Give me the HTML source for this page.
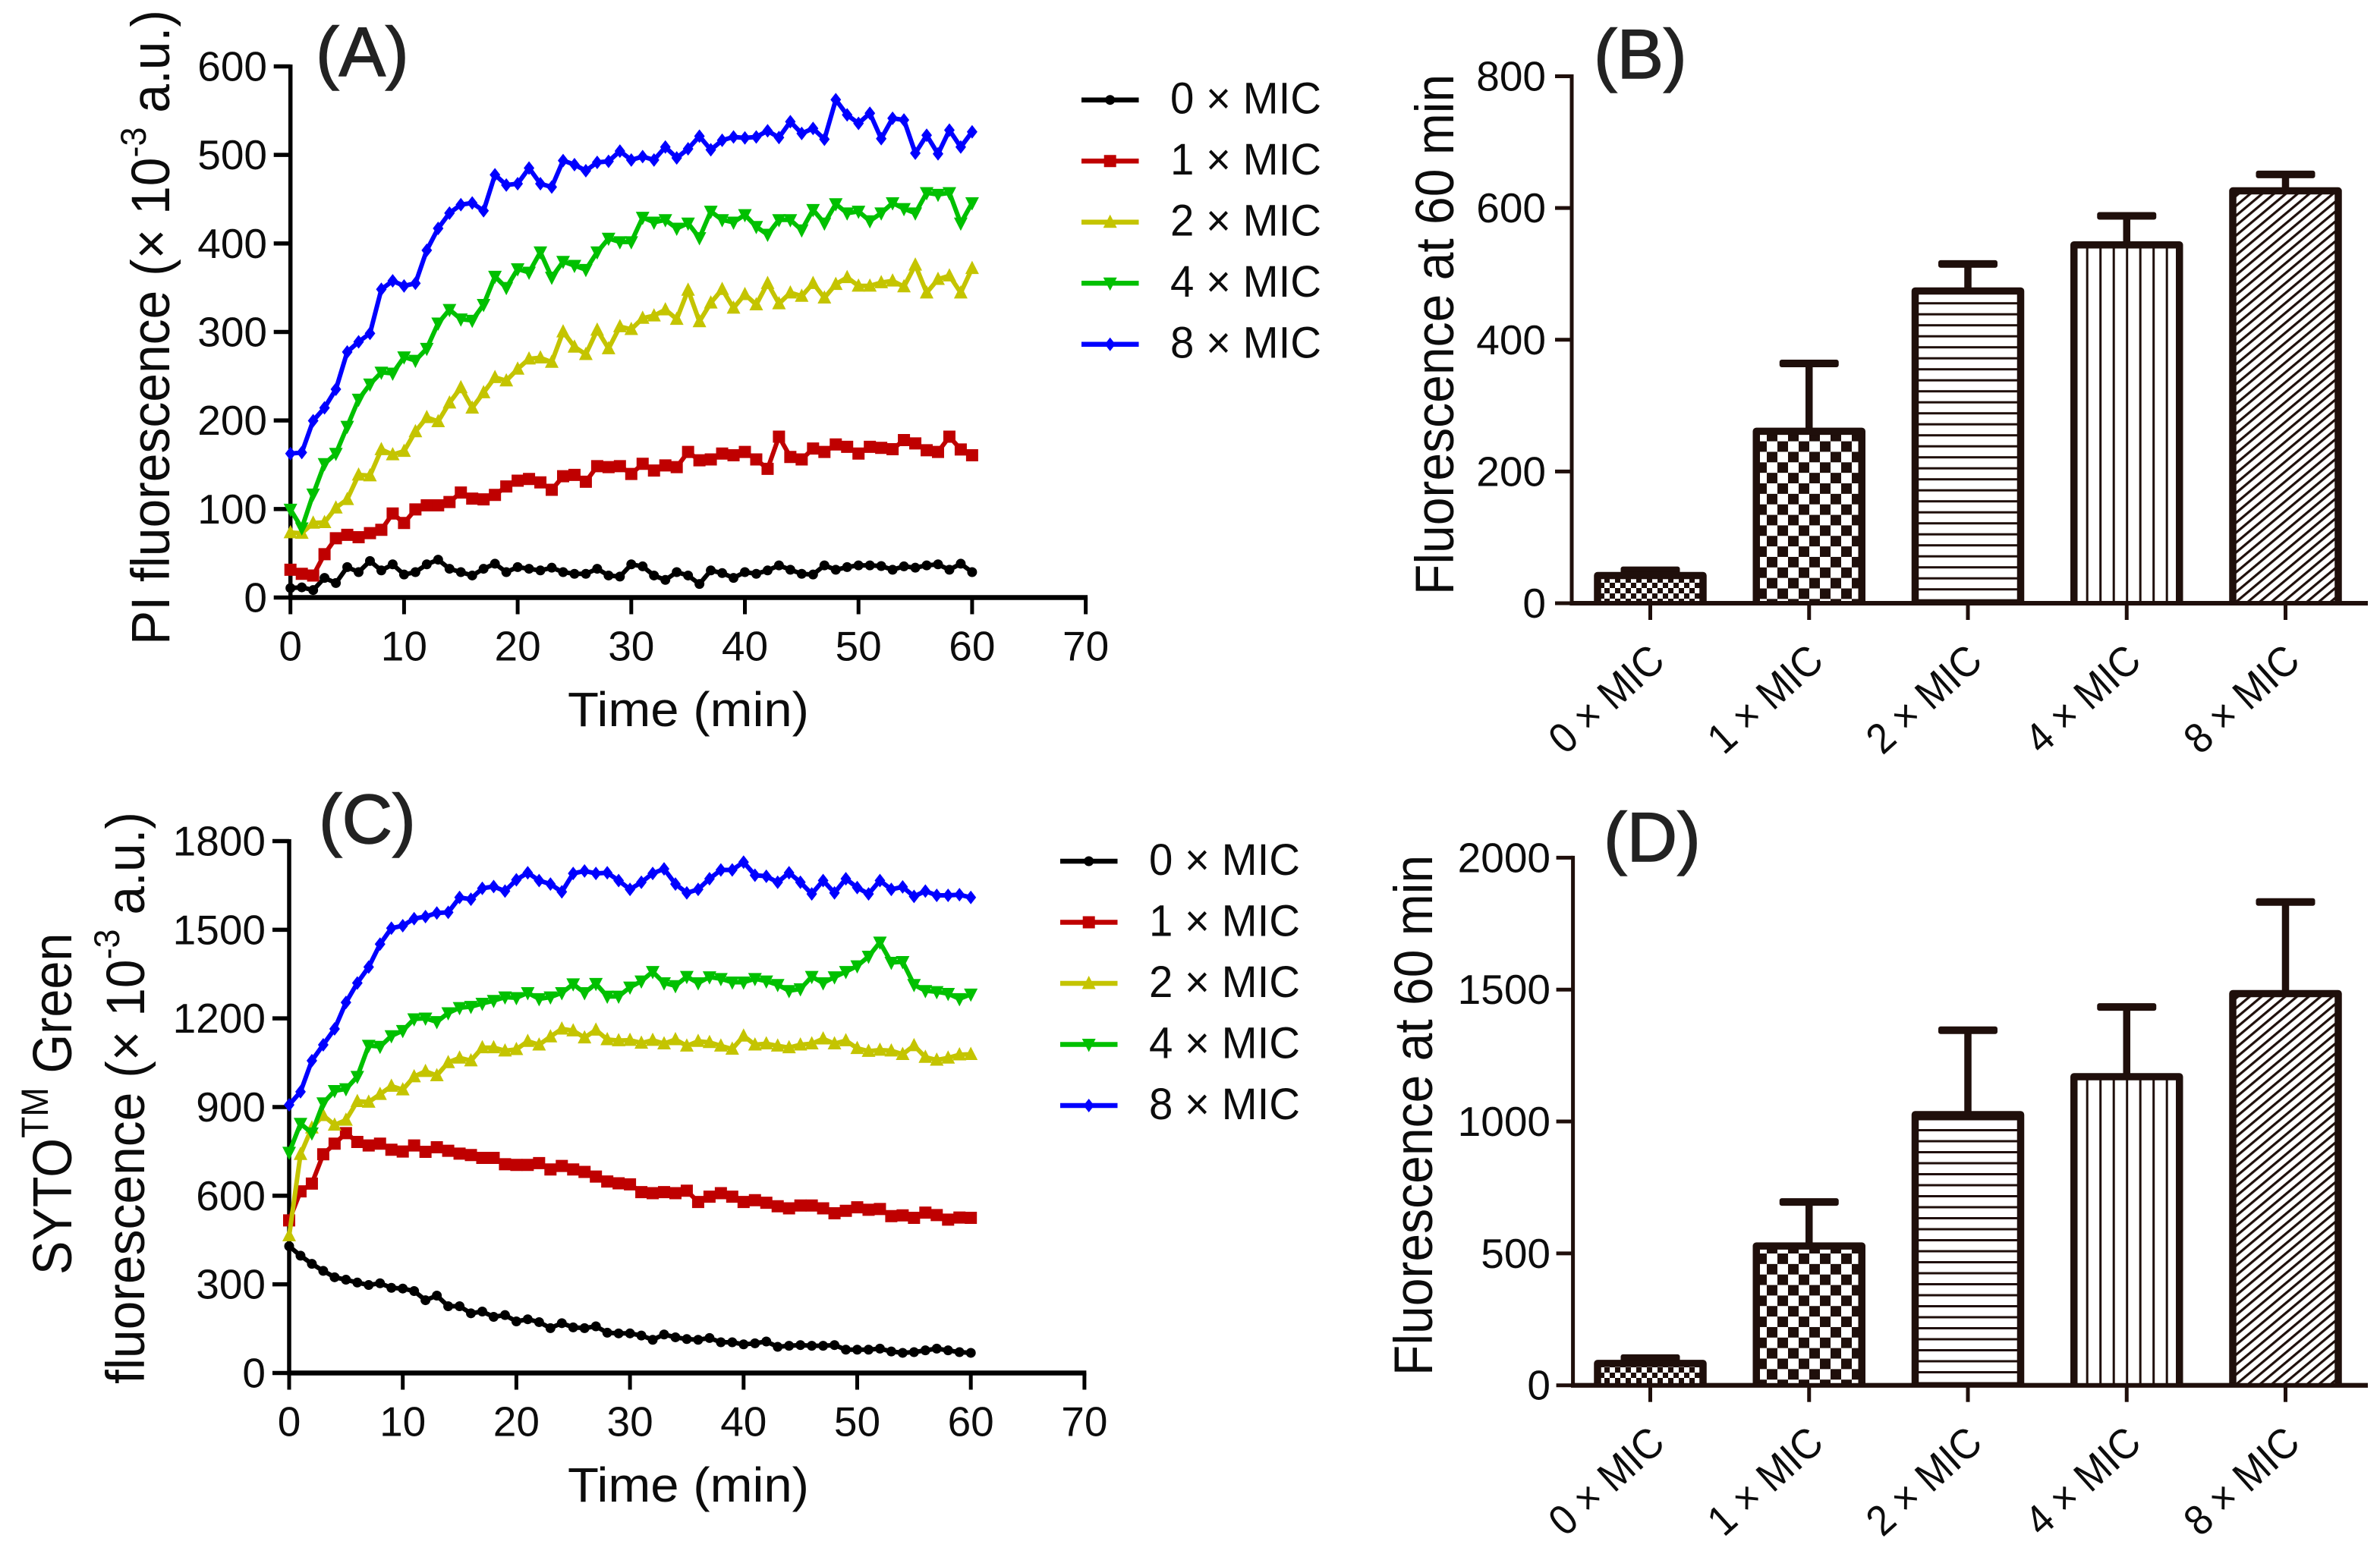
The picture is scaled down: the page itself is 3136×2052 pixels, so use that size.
<!DOCTYPE html>
<html lang="en">
<head>
<meta charset="utf-8">
<title>Fluorescence panels A-D</title>
<style>
html,body{margin:0;padding:0;background:#fff;}
svg{display:block;}
text{font-family:"Liberation Sans",Arial,sans-serif;fill:#0c0c0c;}
.panel-label{fill:#222;stroke:#222;stroke-width:1.5px;}
</style>
</head>
<body>
<svg id="figure" xmlns="http://www.w3.org/2000/svg" width="3136" height="2052" viewBox="0 0 3136 2052">
<defs>
<pattern id="smallCheckB" patternUnits="userSpaceOnUse" x="2100" y="761" width="14" height="14"><rect x="0" y="0" width="7" height="7" fill="#1f0f0b"/><rect x="7" y="7" width="7" height="7" fill="#1f0f0b"/></pattern>
<pattern id="bigCheckB" patternUnits="userSpaceOnUse" x="2328" y="581.6" width="28" height="27.7"><rect x="14" y="0" width="14" height="13.85" fill="#1f0f0b"/><rect x="0" y="13.85" width="14" height="13.85" fill="#1f0f0b"/></pattern>
<pattern id="hLinesB" patternUnits="userSpaceOnUse" x="2500" y="398.2" width="20" height="14.5"><rect x="0" y="0" width="20" height="3" fill="#1f0f0b"/></pattern>
<pattern id="smallCheckD" patternUnits="userSpaceOnUse" x="2100" y="1802" width="14" height="14"><rect x="0" y="0" width="7" height="7" fill="#1f0f0b"/><rect x="7" y="7" width="7" height="7" fill="#1f0f0b"/></pattern>
<pattern id="bigCheckD" patternUnits="userSpaceOnUse" x="2328" y="1652" width="28" height="27.7"><rect x="14" y="0" width="14" height="13.85" fill="#1f0f0b"/><rect x="0" y="13.85" width="14" height="13.85" fill="#1f0f0b"/></pattern>
<pattern id="hLinesD" patternUnits="userSpaceOnUse" x="2500" y="1488" width="20" height="14.5"><rect x="0" y="0" width="20" height="3" fill="#1f0f0b"/></pattern>
<pattern id="vLines" patternUnits="userSpaceOnUse" x="2748.7" y="0" width="17.5" height="20"><rect x="0" y="0" width="3" height="20" fill="#1f0f0b"/></pattern>
<pattern id="diagLines" patternUnits="userSpaceOnUse" width="20" height="10" patternTransform="rotate(-40)"><rect x="0" y="0" width="20" height="3.2" fill="#1f0f0b"/></pattern>
</defs>

<text class="panel-label" x="416" y="100" font-size="92">(A)</text>
<text class="panel-label" x="2100" y="103" font-size="92">(B)</text>
<text class="panel-label" x="420" y="1111" font-size="92">(C)</text>
<text class="panel-label" x="2113" y="1135" font-size="92">(D)</text>

<text font-size="71" transform="translate(223,850) rotate(-90) scale(0.955,1)">PI fluorescence (× 10<tspan font-size="47" dy="-31">-3</tspan><tspan dy="31"> a.u.)</tspan></text>
<text x="748" y="957" font-size="64" textLength="318" lengthAdjust="spacingAndGlyphs">Time (min)</text>

<text font-size="71" transform="translate(1915,784) rotate(-90) scale(0.93,1)">Fluorescence at 60 min</text>

<text font-size="72" transform="translate(94,1680) rotate(-90) scale(0.925,1)">SYTO<tspan font-size="50" dy="-31">TM</tspan><tspan dy="31"> Green</tspan></text>
<text font-size="71" transform="translate(190,1824) rotate(-90) scale(0.955,1)">fluorescence (× 10<tspan font-size="47" dy="-33">-3</tspan><tspan dy="33"> a.u.)</tspan></text>
<text x="748" y="1979" font-size="64" textLength="318" lengthAdjust="spacingAndGlyphs">Time (min)</text>

<text font-size="71" transform="translate(1887,1813) rotate(-90) scale(0.93,1)">Fluorescence at 60 min</text>
</svg>

<script>
// Shared labels
const seriesNames = ['0 × MIC','1 × MIC','2 × MIC','4 × MIC','8 × MIC'];
const barCategories = ['0 × MIC','1 × MIC','2 × MIC','4 × MIC','8 × MIC'];
const timeTicks = [0,10,20,30,40,50,60,70];

// Panel A tick labels and series (index = minute)
const aYTicks = [0,100,200,300,400,500,600];
const aBlack = [10.7,11.5,8.4,22.2,16.4,34.4,28.7,41.3,30.6,37.5,26,28.7,37.5,42.8,32.5,28.7,24.9,32.5,38.2,28.7,34.4,32.5,30.6,33.7,28.7,26.8,26.8,32.5,24.9,23.7,37.5,35.2,24.9,19.9,28.7,24.9,15.3,30.6,27.6,22.2,28.7,26.8,30.6,36.3,31.4,26.8,26,36.3,31.4,34.4,36.3,36.3,35.6,31.4,35.2,33.7,36.3,37.5,31.4,38.2,28.7];
const aRed = [31.4,26.8,24.9,49,67,70.8,68.1,72.7,76.5,94.9,84.2,99.5,104.1,104.1,107.9,118.6,111.7,110.9,115.9,125.5,132,133.9,130.1,121.7,137,138.5,130.8,148.4,147.3,148.4,139.6,151.1,143.5,149.2,147.3,164.5,155,156,162.6,160.7,164.5,156,145.4,181.7,158.8,156,168.3,164.5,172.9,170.2,162.6,170.2,169.1,167.6,177.9,174.1,166.4,164.5,181.7,167.2,160.7];
const aYellow = [73.4,72.7,84.2,84.9,101.4,110.9,138.5,137.7,167.2,161.5,165.3,187.5,203.5,198.9,220,237.2,214.2,231.5,248.7,244.9,258.2,269.7,270.9,265.9,300.3,283.1,274.7,302.2,281.2,306.1,303,315.6,318.3,325.2,314.5,347.4,311.8,332.9,348.2,327.1,342.4,330.9,355,332,344.3,340.5,355,338.6,353.9,361.6,352,352,355.8,357.7,351.2,375.7,344.3,359.6,363.5,344.3,371.9];
const aGreen = [99.5,78.4,116.7,151.1,162.6,193.2,223.8,241,254.4,253.3,271.6,267.8,281.2,309.9,325.2,314.5,313,330.9,362.7,350,371.1,367.3,390.2,361.6,379.5,375,370.4,390.2,405.6,401.7,401.7,429.3,423.9,426.6,417,422.8,406.3,436.2,426.6,423.9,432.3,418.9,410.1,426.6,426.6,415.1,438.1,422.8,444.6,434.2,436.2,425.4,434.2,445.7,439.2,434.2,457.2,455.3,457.2,422.8,445.7];
const aBlue = [162.6,163.8,199.7,214.3,235.3,277.4,288.9,298.4,348.2,357.7,352,355,392.2,417,434.3,443.8,445.7,436.9,477.5,466,467.5,485.1,467.5,463.7,493.6,489,482.1,491.6,492.8,504.3,494.3,498.1,494.3,508.9,496.6,506.9,521.1,505.8,516.5,520.3,519.2,520.3,527.2,519.6,537.5,524.2,529.9,517.7,562.4,545.2,535.6,547.1,518.4,541.4,539.5,502,522.2,501.2,528,508.9,526.1];

// Panel C tick labels and series (index = minute)
const cYTicks = [0,300,600,900,1200,1500,1800];
const cBlack = [429.2,397,369.5,345.6,324,315.7,306.1,297.7,303.7,288.2,285.8,277.4,246.3,261.9,226,226,202,208,190.1,196,174.6,181.8,172.2,151.9,168.6,154.3,151.9,157.9,136.4,134,134,126.8,112.4,130.4,120.8,114.8,112.4,118.4,104,104,96.9,100.5,106.5,88.5,92.1,94.5,92.1,92.1,94.5,78.9,78.9,78.9,82.5,72.9,68.2,70.6,76.6,82.5,76.6,70.6,68.2];
const cRed = [516.5,614.5,640.9,740.1,776,811.8,781.9,770,776,755.6,749.6,770,748.4,764,752,742.5,737.7,728.1,728.1,706.6,704.2,704.2,710.2,688.7,700.6,688.7,680.3,664.8,648,642,638.5,612,608.6,612,608.6,617,578.7,596.6,608.6,596.6,578.7,584.7,576.3,564.4,557.2,566.7,566.7,557.2,540.4,548.8,560.8,552.4,554.8,530.9,533.3,525,542.8,534.5,518.9,526.1,525];
const cYellow = [465.1,740.1,829.7,871.6,839.3,856,919.4,917,943.3,970.8,958.8,1003.1,1021,1006.7,1050.9,1066.4,1056.9,1101.1,1101.1,1090.4,1095.1,1122.6,1110.7,1138.2,1164.5,1158.5,1134.6,1160.9,1128.6,1125,1126.2,1116.7,1126.2,1114.3,1128.6,1107,1122.6,1119,1107,1096.3,1140.6,1110.7,1114.3,1107,1101.1,1110.7,1114.3,1131,1114.3,1125,1098.7,1089.2,1092.8,1090.4,1078.4,1108.3,1068.8,1059.3,1066.4,1077.2,1078.4];
const cGreen = [746.1,844,811.8,913.4,955.3,961.2,1003.1,1108.3,1104.7,1140.6,1158.5,1198,1200.3,1188.4,1218.3,1236.2,1239.8,1250.6,1260.1,1272.1,1269.7,1286.4,1266.1,1272.1,1286.4,1316.3,1286.4,1317.5,1274.5,1274.5,1305.5,1325.9,1358.1,1319.9,1310.3,1341.4,1319.9,1340.2,1334.2,1322.3,1322.3,1334.2,1325.9,1313.9,1293.6,1299.6,1341.4,1319.9,1340.2,1358.1,1377.3,1409.6,1457.4,1389.2,1391.6,1313.9,1293.6,1290,1284,1266.1,1281.6];
const cBlue = [907.4,951.7,1056.9,1110.7,1164.5,1254.1,1319.9,1373.7,1451.4,1505.2,1513.6,1537.5,1544.6,1556.6,1559,1609.2,1603.2,1640.3,1646.3,1630.7,1669,1692.9,1666.6,1654.6,1628.3,1690.5,1698.9,1690.5,1692.9,1666.6,1636.7,1660.6,1690.5,1706,1654.6,1624.7,1636.7,1672.6,1702.5,1702.5,1728.8,1684.5,1681,1660.6,1692.9,1660.6,1621.2,1666.6,1624.7,1672.6,1642.7,1621.2,1666.6,1636.7,1645,1612.8,1630.7,1616.4,1616.4,1618.8,1609.2];

// Panel B bars
const bYTicks = [0,200,400,600,800];
const bValues = [42,261,474,544,626];
const bUpper = [50,364,515,588,651];

// Panel D bars
const dYTicks = [0,500,1000,1500,2000];
const dValues = [83,528,1026,1170,1485];
const dUpper = [103,695,1346,1434,1832];

const NS = 'http://www.w3.org/2000/svg';
const svg = document.getElementById('figure');
const INK = '#1f0f0b';

function el(tag, attrs, parent){
  const e = document.createElementNS(NS, tag);
  for (const k in attrs) e.setAttribute(k, attrs[k]);
  parent.appendChild(e);
  return e;
}
function group(name, parent){
  const g = el('g', {}, parent);
  
  
  return g;
}
function linearScale(d0, r0, d1, r1){
  return v => r0 + (v - d0) * (r1 - r0) / (d1 - d0);
}
function markerPath(shape, x, y){
  if (shape === 'circle') return `M${x-6.5},${y}a6.5,6.5 0 1,0 13,0a6.5,6.5 0 1,0 -13,0Z`;
  if (shape === 'square') return `M${x-8},${y-8}h16v16h-16Z`;
  if (shape === 'up') return `M${x},${y-10}L${x+9},${y+7.5}H${x-9}Z`;
  if (shape === 'down') return `M${x},${y+10}L${x+9},${y-7.5}H${x-9}Z`;
  return `M${x},${y-9}L${x+7},${y}L${x},${y+9}L${x-7},${y}Z`;
}

const seriesColors = ['#000000','#bf0000','#c4c400','#00c000','#0000ff'];
const seriesShapes = ['circle','square','up','down','diamond'];

function drawAxes(panel, g, xAxis, yAxis, ink, w){
  const line = (x1,y1,x2,y2,name,width) => {
    const l = el('line', {x1,y1,x2,y2,stroke:ink,'stroke-width':width,'stroke-linecap':'butt'}, g);
    
    
    return l;
  };
  line(xAxis.x0, xAxis.y, xAxis.x1, xAxis.y, panel + '-x-axis-line', w + 1);
  line(yAxis.x, yAxis.y0, yAxis.x, yAxis.y1, panel + '-y-axis-line', w);
  yAxis.ticks.forEach(v => {
    const y = yAxis.scale(v);
    line(yAxis.x - 22, y, yAxis.x, y, panel + '-y-tick', w);
    const t = el('text', {x:yAxis.labelX, y:y + 19, 'font-size':55, 'text-anchor':'end'}, g);
    
    
    t.textContent = String(v);
  });
}

function drawLinePanel(panel, originX, originY, topY, yMax, yTicks, labelX, series, lg){
  const x = linearScale(0, originX, 70, originX + 1047.9);
  const y = linearScale(0, originY, yMax, topY);
  const g = group(panel + '-chart', svg);
  drawAxes(panel, g, {x0:originX - 2.5, x1:x(70) + 2.5, y:originY}, {x:originX, y0:topY - 2.5, y1:originY + 3, ticks:yTicks, scale:y, labelX}, '#000', 5.5);
  timeTicks.forEach(v => {
    const tick = el('line', {x1:x(v), y1:originY, x2:x(v), y2:originY + 22, stroke:'#000','stroke-width':5}, g);
    
    
    const t = el('text', {x:x(v), y:originY + 83, 'font-size':55, 'text-anchor':'middle'}, g);
    
    
    t.textContent = String(v);
  });
  series.forEach((vals, s) => {
    const sg = group(panel + '-series-' + s, g);
    const d = vals.map((v, i) => (i ? 'L' : 'M') + x(i).toFixed(1) + ',' + y(v).toFixed(1)).join('');
    const path = el('path', {d, fill:'none', stroke:seriesColors[s], 'stroke-width':6, 'stroke-linejoin':'round'}, sg);
    
    
    vals.forEach((v, i) => {
      const m = el('path', {d:markerPath(seriesShapes[s], x(i), y(v)), fill:seriesColors[s]}, sg);
      
      
    });
  });
  const legend = group(panel + '-legend', g);
  seriesNames.forEach((name, s) => {
    const ey = lg.y + s * 80.5;
    const entry = group(panel + '-legend-entry', legend);
    const l = el('line', {x1:lg.x, y1:ey, x2:lg.x + 75.5, y2:ey, stroke:seriesColors[s], 'stroke-width':6.5}, entry);
    
    
    const m = el('path', {d:markerPath(seriesShapes[s], lg.x + 37.7, ey), fill:seriesColors[s]}, entry);
    
    
    const t = el('text', {x:lg.x + 117, y:ey + 18, 'font-size':58, textLength:199, lengthAdjust:'spacingAndGlyphs'}, entry);
    
    
    t.textContent = name;
  });
}

const barSlots = linearScale(0, 2174.5, 4, 3011.5);

function drawBarPanel(panel, originX, originY, topY, yMax, yTicks, labelX, values, upper, fills){
  const y = linearScale(0, originY, yMax, topY);
  const g = group(panel + '-chart', svg);
  drawAxes(panel, g, {x0:originX - 2.5, x1:3120, y:originY}, {x:originX, y0:topY - 2.5, y1:originY, ticks:yTicks, scale:y, labelX}, INK, 5);
  barCategories.forEach((name, i) => {
    const cx = barSlots(i);
    const half = 69.5;
    const top = y(values[i]);
    const cap = y(upper[i]);
    const bg = group(panel + '-bar-group-' + i, g);
    const stem = el('line', {x1:cx, y1:top, x2:cx, y2:cap, stroke:INK, 'stroke-width':9.5}, bg);
    
    
    const capBar = el('rect', {x:cx - 39, y:cap - 5, width:78, height:10, rx:3, fill:INK}, bg);
    
    
    const white = el('rect', {x:cx - half, y:top, width:half * 2, height:originY - top, fill:'#fff'}, bg);
    
    
    const fill = el('rect', {x:cx - half, y:top, width:half * 2, height:originY - top, fill:fills[i]}, bg);
    
    
    const outline = el('path', {d:`M${cx - half},${originY}V${top}H${cx + half}V${originY}`, fill:'none', stroke:INK, 'stroke-width':9.5, 'stroke-linejoin':'round'}, bg);
    
    
    const tick = el('line', {x1:cx, y1:originY, x2:cx, y2:originY + 22, stroke:INK, 'stroke-width':5}, bg);
    
    
    const lx = cx + 22;
    const ly = originY + 80;
    const t = el('text', {x:lx, y:ly, 'font-size':56, 'text-anchor':'end', textLength:181, lengthAdjust:'spacingAndGlyphs', transform:`rotate(-42 ${lx} ${ly})`}, bg);
    
    
    t.textContent = name;
  });
  const base = el('line', {x1:originX - 2.5, y1:originY, x2:3120, y2:originY, stroke:INK, 'stroke-width':6}, g);
  
  
}

drawLinePanel('panel-a', 382.7, 787.5, 87.5, 600, aYTicks, 352, [aBlack,aRed,aYellow,aGreen,aBlue], {x:1425, y:131.7});
drawLinePanel('panel-c', 381, 1809.5, 1108.5, 1800, cYTicks, 350, [cBlack,cRed,cYellow,cGreen,cBlue], {x:1397, y:1135});
drawBarPanel('panel-b', 2071, 795, 100.5, 800, bYTicks, 2037, bValues, bUpper, ['url(#smallCheckB)','url(#bigCheckB)','url(#hLinesB)','url(#vLines)','url(#diagLines)']);
drawBarPanel('panel-d', 2072.6, 1825.7, 1130.4, 2000, dYTicks, 2043, dValues, dUpper, ['url(#smallCheckD)','url(#bigCheckD)','url(#hLinesD)','url(#vLines)','url(#diagLines)']);
</script>
</body>
</html>
